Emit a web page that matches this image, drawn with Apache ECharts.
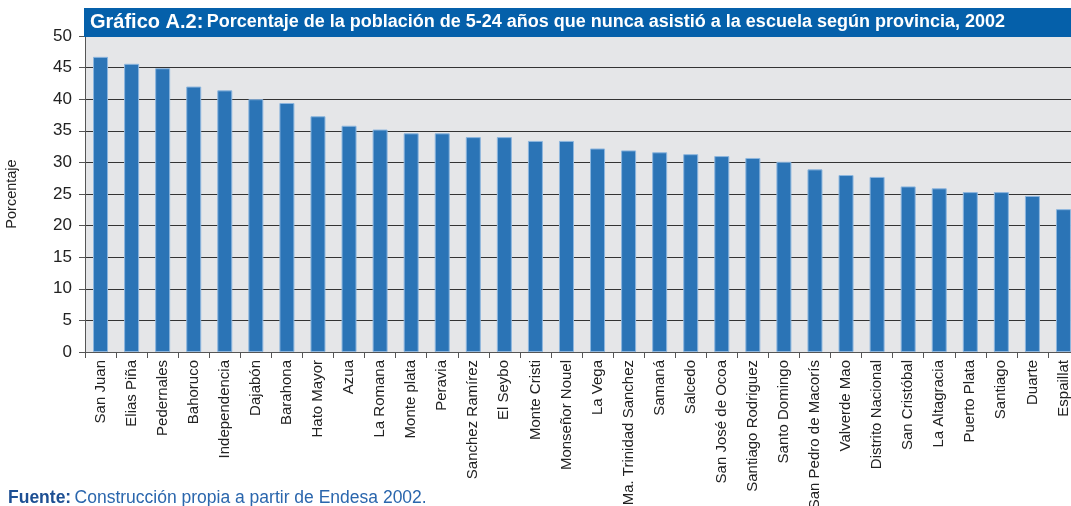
<!DOCTYPE html>
<html>
<head>
<meta charset="utf-8">
<script src="https://cdn.jsdelivr.net/npm/echarts@6/dist/echarts.min.js"></script>
<style>
  html, body { margin: 0; padding: 0; background: #fff; overflow: hidden; }
  /* el gráfico original está cortado a la derecha: se deja el lienzo un poco más ancho */
  #main { width: 1079px; height: 506px; }
</style>
</head>
<body>
<div id="main"></div>
<script>
// provincias y porcentajes
var provincias = ['San Juan', 'Elias Piña', 'Pedernales', 'Bahoruco', 'Independencia', 'Dajabón',
    'Barahona', 'Hato Mayor', 'Azua', 'La Romana', 'Monte plata', 'Peravia', 'Sanchez Ramírez',
    'El Seybo', 'Monte Cristi', 'Monseñor Nouel', 'La Vega', 'Ma. Trinidad Sanchez', 'Samaná',
    'Salcedo', 'San José de Ocoa', 'Santiago Rodriguez', 'Santo Domingo', 'San Pedro de Macorís',
    'Valverde Mao', 'Distrito Nacional', 'San Cristóbal', 'La Altagracia', 'Puerto Plata',
    'Santiago', 'Duarte', 'Espaillat'];
var porcentaje = [46.7, 45.6, 44.9, 42.0, 41.4, 40.0, 39.4, 37.3, 35.8, 35.2, 34.6, 34.6, 34.0,
    34.0, 33.4, 33.4, 32.2, 31.9, 31.6, 31.3, 31.0, 30.7, 30.1, 28.9, 28.0, 27.7, 26.2, 25.9,
    25.3, 25.3, 24.7, 22.6];
var yTicks = { min: 0, max: 50, step: 5 };

var fuente = 'Liberation Sans, Arial, sans-serif';
var chart = echarts.init(document.getElementById('main'));

var option = {
    animation: false,
    textStyle: { fontFamily: fuente },
    grid: {
        left: 85,
        top: 36,
        right: 0,
        bottom: 154,
        outerBoundsMode: 'none',
        containLabel: false,
        show: true,
        backgroundColor: '#e5e6e8',
        borderWidth: 0
    },
    graphic: [
        // barra azul del título
        {
            type: 'rect',
            left: 84, top: 8,
            shape: { width: 1000, height: 29 },
            style: { fill: '#0560aa' },
            z: 100
        },
        {
            type: 'text',
            left: 90, top: 12,
            style: {
                text: '{a|Gráfico A.2:} {b|Porcentaje de la población de 5-24 años que nunca asistió a la escuela según provincia, 2002}',
                rich: {
                    a: { fontSize: 20, fontWeight: 'bold', fill: '#fff', fontFamily: fuente },
                    b: { fontSize: 18, fontWeight: 'bold', fill: '#fff', fontFamily: fuente }
                }
            },
            z: 101
        },
        // fuente
        {
            type: 'text',
            left: 8, top: 489,
            style: {
                text: '{a|Fuente:} {b|Construcción propia a partir de Endesa 2002.}',
                rich: {
                    a: { fontSize: 17.5, fontWeight: 'bold', fill: '#1d4f93', fontFamily: fuente },
                    b: { fontSize: 17.5, fill: '#2a66ad', fontFamily: fuente }
                }
            },
            z: 101
        }
    ],
    xAxis: {
        type: 'category',
        data: provincias,
        axisLine: { show: true, lineStyle: { color: '#555', width: 1 } },
        axisTick: { show: true, length: 6, lineStyle: { color: '#555' } },
        axisLabel: {
            interval: 0,
            rotate: 90,
            fontSize: 15,
            color: '#222',
            margin: 8
        }
    },
    yAxis: {
        type: 'value',
        min: yTicks.min,
        max: yTicks.max,
        interval: yTicks.step,
        name: 'Porcentaje',
        nameLocation: 'middle',
        nameGap: 66,
        nameTextStyle: { fontSize: 14.5, color: '#222' },
        axisLine: { show: true, lineStyle: { color: '#555', width: 1 } },
        axisTick: { show: true, length: 6, lineStyle: { color: '#555' } },
        axisLabel: { fontSize: 17, color: '#222', margin: 13 },
        splitLine: { show: true, lineStyle: { color: '#333', width: 1 } }
    },
    series: [{
        name: 'Porcentaje',
        type: 'bar',
        data: porcentaje,
        barWidth: 15,
        itemStyle: {
            color: '#2b74b6',
            borderColor: '#8db6de',
            borderWidth: 1
        }
    }]
};

chart.setOption(option);
</script>
</body>
</html>
